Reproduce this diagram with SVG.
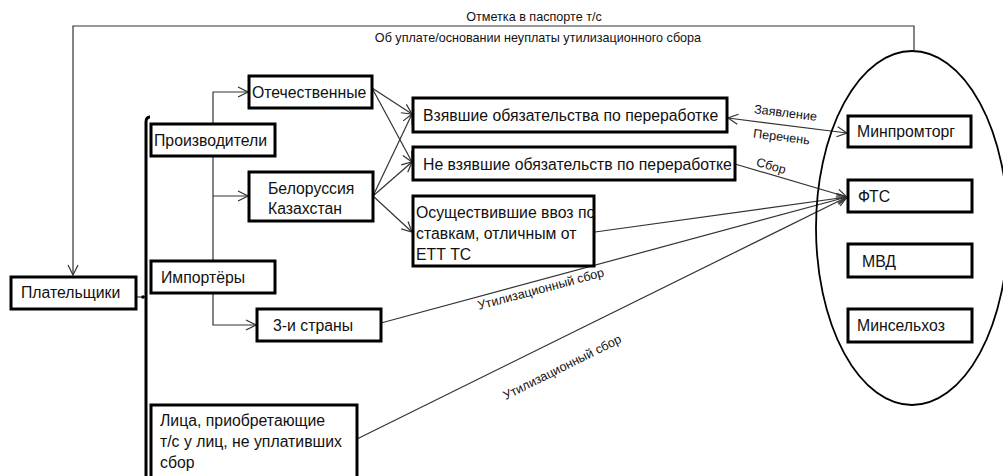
<svg xmlns="http://www.w3.org/2000/svg" width="1003" height="476" viewBox="0 0 1003 476">
<style>
.box{fill:#fff;stroke:#000;stroke-width:3}
.t{font-family:"Liberation Sans",Arial,sans-serif;font-size:15.8px;fill:#111}
.s{font-family:"Liberation Sans",Arial,sans-serif;font-size:12.6px;fill:#111}
.c{fill:none;stroke:#333;stroke-width:1.2}
</style>
<defs>
<marker id="ar" markerWidth="12" markerHeight="12" refX="11" refY="6" orient="auto-start-reverse" markerUnits="userSpaceOnUse">
<path d="M1,1 L11,6 L1,11" fill="none" stroke="#333" stroke-width="1.2"/>
</marker>
</defs>
<rect width="1003" height="476" fill="#fff"/>

<g id="connectors">
<path class="c" d="M914,50 L914,26 L73,26 L73,275" marker-end="url(#ar)"/>
<path class="c" d="M136,297 L146,297"/>
<circle cx="143" cy="297" r="1.8" fill="#000"/>
<path class="c" d="M213,124 L213,92 L248,92" marker-end="url(#ar)"/>
<path class="c" d="M213,156 L213,261"/>
<path class="c" d="M213,196 L248,196" marker-end="url(#ar)"/>
<path class="c" d="M213,293 L213,325 L256,325" marker-end="url(#ar)"/>
<path class="c" d="M372,88 L412,114" marker-end="url(#ar)"/>
<path class="c" d="M372,88 L412,162" marker-end="url(#ar)"/>
<path class="c" d="M373,196 L412,114" marker-end="url(#ar)"/>
<path class="c" d="M373,196 L412,162" marker-end="url(#ar)"/>
<path class="c" d="M373,196 L412,232" marker-end="url(#ar)"/>
<path class="c" d="M728,118 L847,133" marker-start="url(#ar)" marker-end="url(#ar)"/>
<path class="c" d="M735,164 L847,197" marker-end="url(#ar)"/>
<path class="c" d="M595,232 L847,197" marker-end="url(#ar)"/>
<path class="c" d="M381,323 L847,197" marker-end="url(#ar)"/>
<path class="c" d="M357,439 L847,197" marker-end="url(#ar)"/>
<path d="M150,117 Q146,117 146,122 L146,476" fill="none" stroke="#000" stroke-width="3"/>
<ellipse cx="912" cy="228" rx="96" ry="177" fill="none" stroke="#000" stroke-width="1.8"/>
<text class="s" x="534" y="21" text-anchor="middle">Отметка в паспорте т/с</text>
<text class="s" x="538" y="42" text-anchor="middle">Об уплате/основании неуплаты утилизационного сбора</text>
<text class="s" x="785" y="117" text-anchor="middle" transform="rotate(7 785 117)">Заявление</text>
<text class="s" x="781" y="141" text-anchor="middle" transform="rotate(7 781 141)">Перечень</text>
<text class="s" x="770" y="170" text-anchor="middle" transform="rotate(16 770 170)">Сбор</text>
<text class="s" x="542" y="293" text-anchor="middle" transform="rotate(-15 542 293)">Утилизационный сбор</text>
<text class="s" x="564" y="371" text-anchor="middle" transform="rotate(-26.5 564 371)">Утилизационный сбор</text>
</g>

<g id="platelshchiki"><rect class="box" x="11" y="277" width="125" height="32"/><text class="t" x="21" y="298">Плательщики</text></g>
<g id="proizvoditeli"><rect class="box" x="151" y="124" width="124" height="32"/><text class="t" x="154" y="146">Производители</text></g>
<g id="otechestvennye"><rect class="box" x="249" y="76" width="123" height="32"/><text class="t" x="252" y="98">Отечественные</text></g>
<g id="belorussia"><rect class="box" x="249" y="172" width="124" height="49"/><text class="t" x="268" y="194">Белоруссия</text><text class="t" x="268" y="214">Казахстан</text></g>
<g id="importery"><rect class="box" x="151" y="261" width="124" height="32"/><text class="t" x="161" y="283">Импортёры</text></g>
<g id="tretyi"><rect class="box" x="257" y="309" width="124" height="32"/><text class="t" x="273" y="331">3-и страны</text></g>
<g id="litsa"><rect class="box" x="151" y="405" width="206" height="75"/><text class="t" x="160" y="426">Лица, приобретающие</text><text class="t" x="160" y="447">т/с у лиц, не уплативших</text><text class="t" x="160" y="468">сбор</text></g>
<g id="vzyavshie"><rect class="box" x="413" y="98" width="314" height="34"/><text class="t" x="423" y="121">Взявшие обязательства по переработке</text></g>
<g id="ne-vzyavshie"><rect class="box" x="413" y="147" width="322" height="33"/><text class="t" x="423" y="170">Не взявшие обязательств по переработке</text></g>
<g id="osushchestvivshie"><rect class="box" x="413" y="196" width="181" height="70"/><text class="t" x="416" y="218">Осуществившие ввоз по</text><text class="t" x="416" y="239">ставкам, отличным от</text><text class="t" x="416" y="260">ЕТТ ТС</text></g>
<g id="minpromtorg"><rect class="box" x="848" y="116" width="123" height="31"/><text class="t" x="857" y="137">Минпромторг</text></g>
<g id="fts"><rect class="box" x="848" y="180" width="124" height="32"/><text class="t" x="858" y="202">ФТС</text></g>
<g id="mvd"><rect class="box" x="848" y="244" width="124" height="33"/><text class="t" x="862" y="267">МВД</text></g>
<g id="minselkhoz"><rect class="box" x="848" y="309" width="124" height="33"/><text class="t" x="857" y="331">Минсельхоз</text></g>
</svg>
